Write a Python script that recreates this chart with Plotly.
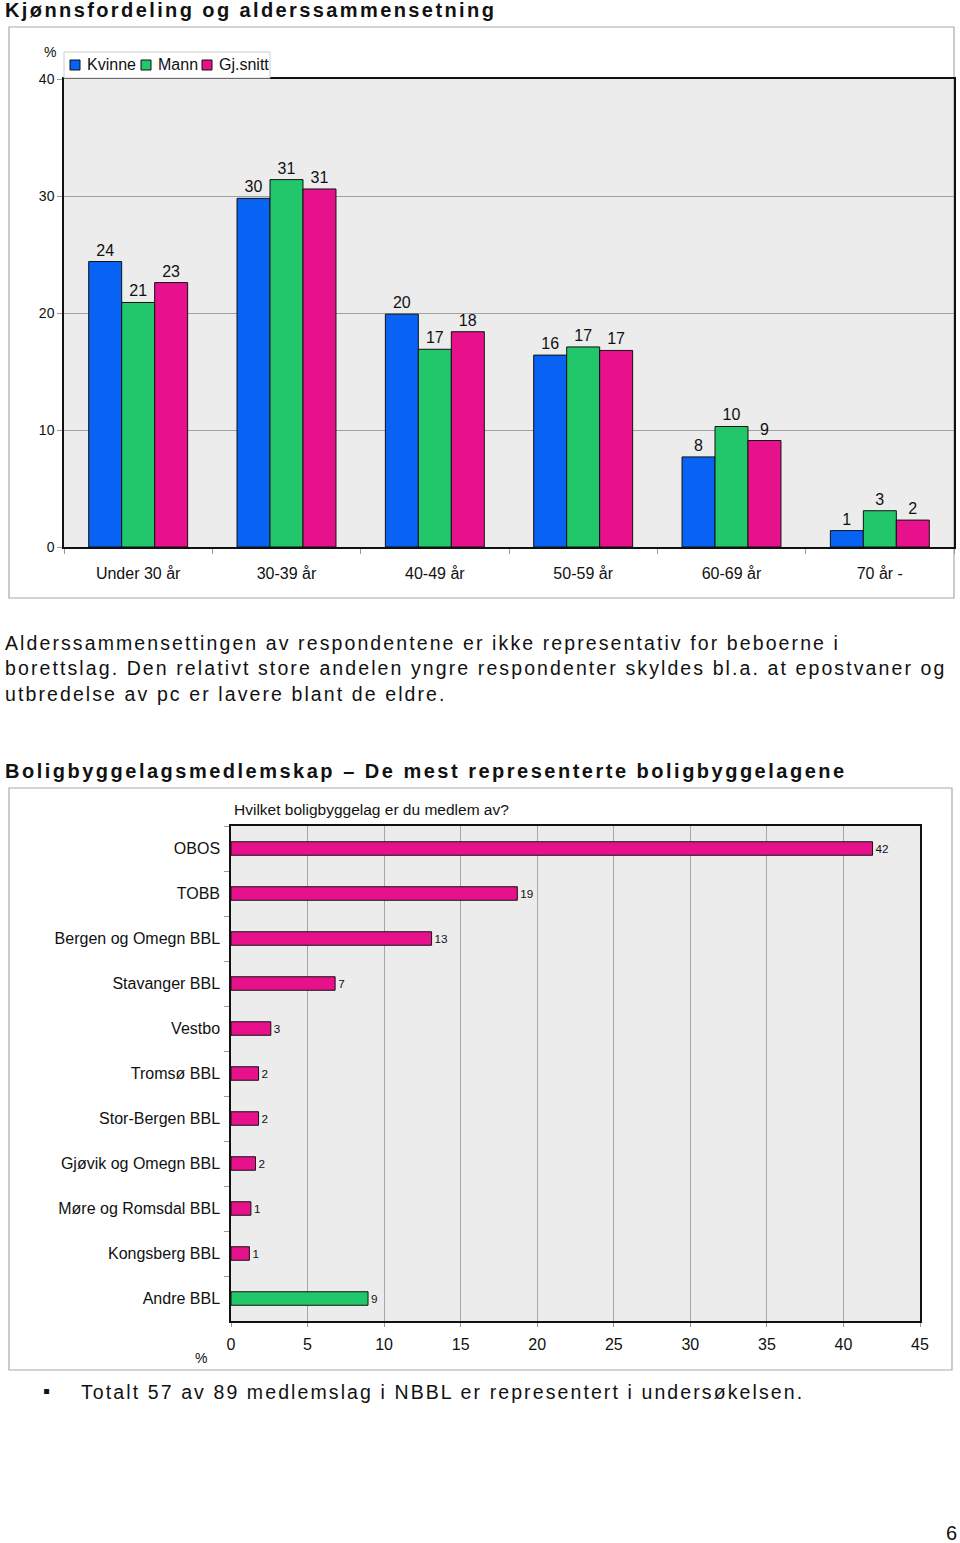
import plotly.graph_objects as go

# ---------------- data ----------------
age_groups = ["Under 30 år", "30-39 år", "40-49 år", "50-59 år", "60-69 år", "70 år -"]
kvinne = [24.4, 29.8, 19.9, 16.4, 7.7, 1.4]
mann = [20.9, 31.4, 16.9, 17.1, 10.3, 3.1]
snitt = [22.6, 30.6, 18.4, 16.8, 9.1, 2.3]
series_names = ["Kvinne", "Mann", "Gj.snitt"]

lag_names = ["OBOS", "TOBB", "Bergen og Omegn BBL", "Stavanger BBL", "Vestbo",
             "Tromsø BBL", "Stor-Bergen BBL", "Gjøvik og Omegn BBL",
             "Møre og Romsdal BBL", "Kongsberg BBL", "Andre BBL"]
lag_pct = [41.9, 18.7, 13.1, 6.8, 2.6, 1.8, 1.8, 1.6, 1.3, 1.2, 8.95]

W, H = 960, 1543
def px(x): return x / W
def py(y): return 1 - y / H

BLUE = "#0863F5"
GREEN = "#22C76B"
PINK = "#E8118C"
FONT = "Liberation Sans"
series_colors = [BLUE, GREEN, PINK]

fig = go.Figure()

for name, vals, col in zip(series_names, [kvinne, mann, snitt], series_colors):
    fig.add_trace(go.Bar(
        x=age_groups, y=vals, name=name, showlegend=False,
        marker=dict(color=col, line=dict(color="#111", width=1)),
        texttemplate="%{y:.0f}", textposition="outside", cliponaxis=False,
        textfont=dict(family=FONT, size=16, color="#111"),
        xaxis="x", yaxis="y", hoverinfo="skip"))

lag_colors = [PINK] * (len(lag_names) - 1) + [GREEN]
fig.add_trace(go.Bar(
    y=lag_names, x=lag_pct, orientation="h", width=0.3, showlegend=False,
    marker=dict(color=lag_colors, line=dict(color="#111", width=1)),
    texttemplate="%{x:.0f}", textposition="outside", cliponaxis=False,
    textfont=dict(family=FONT, size=13, color="#111"),
    xaxis="x2", yaxis="y2", hoverinfo="skip"))

def axis(**kw):
    d = dict(showline=True, linecolor="#111", linewidth=1.5, mirror=True, automargin=False,
             tickfont=dict(family=FONT, size=15, color="#111"))
    d.update(kw)
    return d

fig.update_layout(
    width=W, height=H, margin=dict(l=0, r=0, t=0, b=0, autoexpand=False),
    paper_bgcolor="white", plot_bgcolor="#ECECEC",
    barmode="group", bargap=0.333, bargroupgap=0, showlegend=False,
    font=dict(family=FONT, color="#111"),
    xaxis=axis(domain=[px(64), px(954)], anchor="y", type="category",
               tickson="boundaries", ticks="outside", ticklen=5, tickcolor="#999",
               ticklabelstandoff=11, showgrid=False,
               tickfont=dict(family=FONT, size=16, color="#111")),
    yaxis=axis(domain=[py(547), py(79)], anchor="x", range=[0, 40], dtick=10,
               ticks="outside", ticklen=5, tickcolor="#999", showgrid=True,
               gridcolor="#A0A0A0", gridwidth=1, zeroline=False,
               tickfont=dict(family=FONT, size=14, color="#111")),
    xaxis2=axis(domain=[px(231), px(920)], anchor="y2", range=[0, 45], dtick=5,
                ticks="outside", ticklen=4, tickcolor="#999", showgrid=True,
                gridcolor="#A8A8A8", zeroline=False, ticklabelstandoff=4,
                tickfont=dict(family=FONT, size=16, color="#111")),
    yaxis2=axis(domain=[py(1321), py(826)], anchor="x2", type="category",
                autorange="reversed", tickson="boundaries", ticks="outside",
                ticklen=5, tickcolor="#999", ticklabelstandoff=6, showgrid=False,
                tickfont=dict(family=FONT, size=16, color="#111")),
)

shapes = [
    dict(type="rect", xref="paper", yref="paper", x0=px(9), x1=px(954), y0=py(598), y1=py(27),
         line=dict(color="#AAAAAA", width=1.2), layer="below"),
    dict(type="rect", xref="paper", yref="paper", x0=px(9), x1=px(952), y0=py(1370), y1=py(788),
         line=dict(color="#AAAAAA", width=1.2), layer="below"),
    # legend box
    dict(type="rect", xref="paper", yref="paper", x0=px(64), x1=px(270), y0=py(78), y1=py(52),
         line=dict(color="#CCCCCC", width=1), fillcolor="white", layer="above"),
]

def sp(txt, ls):
    return f'<span style="letter-spacing:{ls}px">{txt}</span>'

ann = []
# legend entries
leg_x = [70, 141, 202]
for lx, name, col in zip(leg_x, series_names, series_colors):
    shapes.append(dict(type="rect", xref="paper", yref="paper", x0=px(lx), x1=px(lx + 10),
                       y0=py(70), y1=py(60), fillcolor=col, line=dict(color="#111", width=1),
                       layer="above"))
    ann.append(dict(x=px(lx + 15), y=py(65), xanchor="left", yanchor="middle", text=name,
                    font=dict(size=16)))

ann.append(dict(x=px(3), y=py(10), xanchor="left", yanchor="middle",
                text="<b>" + sp("Kjønnsfordeling og alderssammensetning", 2.4) + "</b>",
                font=dict(size=20)))
ann.append(dict(x=px(50), y=py(52), xanchor="center", yanchor="middle", text="%",
                font=dict(size=14)))
para = ["Alderssammensettingen av respondentene er ikke representativ for beboerne i",
        "borettslag. Den relativt store andelen yngre respondenter skyldes bl.a. at epostvaner og",
        "utbredelse av pc er lavere blant de eldre."]
for i, line in enumerate(para):
    ann.append(dict(x=px(3), y=py(643 + 25.3 * i), xanchor="left", yanchor="middle",
                    text=sp(line, 2.1), font=dict(size=19.5)))
ann.append(dict(x=px(3), y=py(771), xanchor="left", yanchor="middle",
                text="<b>" + sp("Boligbyggelagsmedlemskap – De mest representerte boligbyggelagene", 2.5) + "</b>",
                font=dict(size=20)))
ann.append(dict(x=px(232), y=py(810), xanchor="left", yanchor="middle",
                text="Hvilket boligbyggelag er du medlem av?", font=dict(size=15.5)))
ann.append(dict(x=px(201), y=py(1358), xanchor="center", yanchor="middle", text="%",
                font=dict(size=14)))
ann.append(dict(x=px(46), y=py(1391), xanchor="center", yanchor="middle", text="▪",
                font=dict(size=20)))
ann.append(dict(x=px(79), y=py(1392), xanchor="left", yanchor="middle",
                text=sp("Totalt 57 av 89 medlemslag i NBBL er representert i undersøkelsen.", 2.1),
                font=dict(size=19.5)))
ann.append(dict(x=px(951), y=py(1533), xanchor="center", yanchor="middle", text="6",
                font=dict(size=20)))
for a in ann:
    a.update(xref="paper", yref="paper", showarrow=False, align="left")
    a["font"] = dict(family=FONT, color="#111", **a["font"])
fig.update_layout(annotations=ann, shapes=shapes)

fig.write_html("out.html", config={"displayModeBar": False},
               post_script="document.body.style.margin='0';document.body.style.overflow='hidden';")
